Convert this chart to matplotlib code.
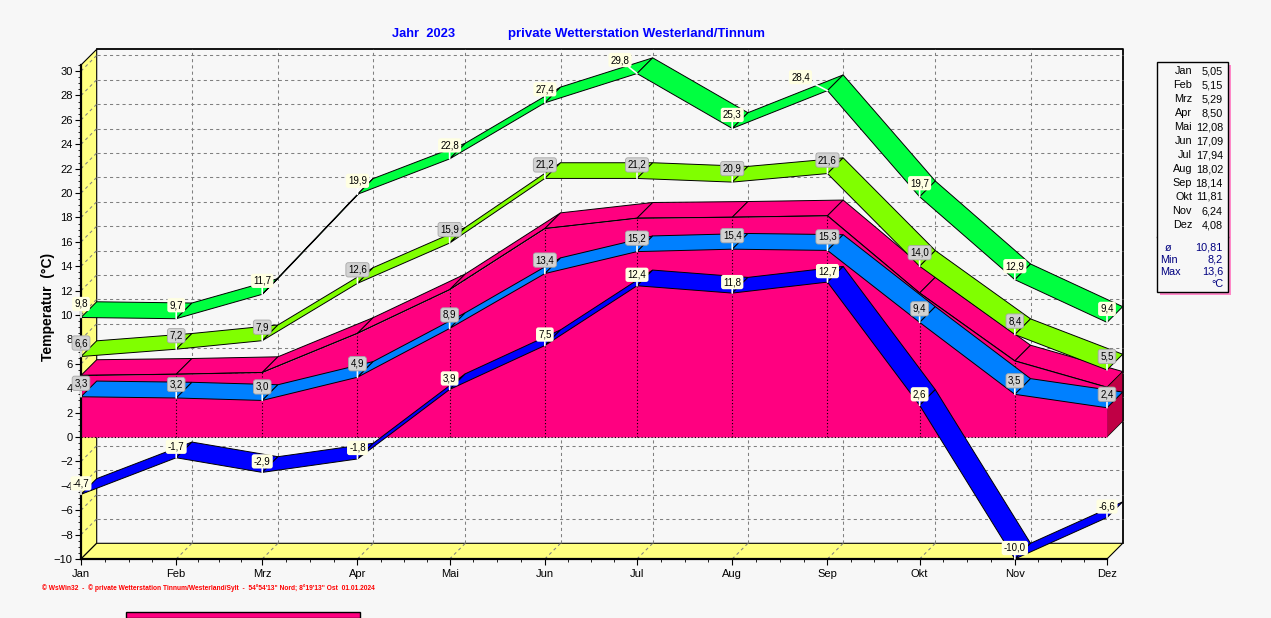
import matplotlib
matplotlib.use("Agg")
import matplotlib.pyplot as plt
import numpy as np
from matplotlib.patches import Polygon, Rectangle
from matplotlib.ticker import FixedLocator, MultipleLocator

plt.rcParams['font.family'] = ['Liberation Sans', 'DejaVu Sans']

# --- data (Jahr 2023, Westerland/Tinnum) ---
months = ['Jan', 'Feb', 'Mrz', 'Apr', 'Mai', 'Jun', 'Jul', 'Aug', 'Sep', 'Okt', 'Nov', 'Dez']
month_days = [31, 28, 31, 30, 31, 30, 31, 31, 30, 31, 30, 31]
temp_max = [9.8, 9.7, 11.7, 19.9, 22.8, 27.4, 29.8, 25.3, 28.4, 19.7, 12.9, 9.4]
temp_mean_max = [6.6, 7.2, 7.9, 12.6, 15.9, 21.2, 21.2, 20.9, 21.6, 14.0, 8.4, 5.5]
temp_mean = [5.05, 5.15, 5.29, 8.50, 12.08, 17.09, 17.94, 18.02, 18.14, 11.81, 6.24, 4.08]
temp_mean_min = [3.3, 3.2, 3.0, 4.9, 8.9, 13.4, 15.2, 15.4, 15.3, 9.4, 3.5, 2.4]
temp_min = [-4.7, -1.7, -2.9, -1.8, 3.9, 7.5, 12.4, 11.8, 12.7, 2.6, -10.0, -6.6]
year_mean = '10,81'
year_min = '8,2'
year_max = '13,6'

W, H = 1271, 618
BG = '#F7F7F7'
YELLOW = '#FFFF80'
PINK = '#FF0080'
PINK_DARK = '#C00045'
GRID = '#808080'

def fx(px):
    return px / W

def fy(py):
    return 1 - py / H

def fmt(v):
    return f"{v:.1f}".replace('.', ',')

fig = plt.figure(figsize=(W / 100, H / 100), dpi=100)
fig.patch.set_facecolor(BG)
ax = fig.add_axes([fx(81), 59 / H, 1026 / W, 494 / H])
xmin, xmax = 0, sum(month_days[:-1])
ymin, ymax = -10, 30.5
ax.set_xlim(xmin, xmax)
ax.set_ylim(ymin, ymax)
ax.patch.set_visible(False)

# first day of every month as day of year
x = np.concatenate([[0], np.cumsum(month_days[:-1])])
n = len(x)

# depth of the 3d effect, in pixels -> data units
DEPTH = 15.7
p0 = ax.transData.transform((0, 0))
p1 = ax.transData.transform((1, 1))
dx = DEPTH / (p1[0] - p0[0])
dy = DEPTH / (p1[1] - p0[1])

# back wall, left wall, floor
ax.add_patch(Rectangle((xmin + dx, ymin + dy), xmax - xmin, ymax - ymin,
                       fc=BG, ec='none', zorder=0, clip_on=False))
ax.plot([xmin + dx, xmax + dx, xmax + dx], [ymax + dy, ymax + dy, ymin + dy],
        color='k', lw=1.3, zorder=0.5, clip_on=False)
ax.add_patch(Polygon([(xmin, ymin), (xmin, ymax), (xmin + dx, ymax + dy), (xmin + dx, ymin + dy)],
                     closed=True, fc=YELLOW, ec='k', lw=0.8, zorder=0.6, clip_on=False))
ax.add_patch(Polygon([(xmin, ymin), (xmax, ymin), (xmax + dx, ymin + dy), (xmin + dx, ymin + dy)],
                     closed=True, fc=YELLOW, ec='k', lw=0.8, zorder=0.6, clip_on=False))

# dashed grid on back wall, left wall and floor
dash = dict(color=GRID, lw=0.75, dashes=(3, 3), zorder=0.8, clip_on=False)
for yv in range(-8, 31, 2):
    ax.plot([xmin + dx, xmax + dx], [yv + dy, yv + dy], **dash)
    ax.plot([xmin, xmin + dx], [yv, yv + dy], **dash)
for xv in x[1:-1]:
    ax.plot([xv + dx, xv + dx], [ymin + dy, ymax + dy], **dash)
    ax.plot([xv, xv + dx], [ymin, ymin + dy], **dash)

# pink 3d area for the monthly mean
m = temp_mean
for i in range(n - 1):
    poly = [(x[i], m[i]), (x[i + 1], m[i + 1]), (x[i + 1] + dx, m[i + 1] + dy), (x[i] + dx, m[i] + dy)]
    ax.add_patch(Polygon(poly, closed=True, fc=PINK, ec='k', lw=0.7, zorder=3, clip_on=False))
ax.add_patch(Polygon([(x[-1], 0), (x[-1], m[-1]), (x[-1] + dx, m[-1] + dy), (x[-1] + dx, dy)],
                     closed=True, fc=PINK_DARK, ec='k', lw=0.5, zorder=3, clip_on=False))
ax.fill_between(x, 0, m, color=PINK, lw=0, zorder=3.1)
ax.plot(x, m, color='k', lw=0.8, zorder=3.2)
ax.vlines(x[1:-1], 0, m[1:-1], colors='k', linestyles=(0, (1, 2)), lw=0.8, zorder=3.2)
ax.plot([x[0], x[-1]], [0, 0], color='k', ls=(0, (1, 2)), lw=0.8, zorder=3.2)


def ribbon(vals, color, z):
    for i in range(n - 1):
        poly = [(x[i], vals[i]), (x[i + 1], vals[i + 1]),
                (x[i + 1] + dx, vals[i + 1] + dy), (x[i] + dx, vals[i] + dy)]
        ax.add_patch(Polygon(poly, closed=True, fc=color, ec='k', lw=0.7, zorder=z, clip_on=False))


ribbon(temp_mean_min, '#0080FF', 4)
ribbon(temp_min, '#0000FF', 5)
ribbon(temp_mean_max, '#80FF00', 6)
ribbon(temp_max, '#00FF40', 7)


def labels(vals, fc, ec, rise, nudge=None):
    nudge = nudge or {}
    for i, (xi, v) in enumerate(zip(x, vals)):
        ax.annotate(fmt(v), xy=(xi, v), xytext=(nudge.get(i, 0), rise),
                    textcoords='offset pixels', ha='center', va='center', fontsize=7,
                    bbox=dict(boxstyle='round,pad=0.22,rounding_size=0.25', fc=fc, ec=ec, lw=0.6),
                    arrowprops=dict(arrowstyle='-', color='white', lw=1.2, shrinkA=0, shrinkB=0),
                    zorder=10, annotation_clip=False)


labels(temp_mean_min, '#D2D2D2', '#A8A8A8', 13.5)
labels(temp_min, '#FFFFE2', 'none', 11)
labels(temp_mean_max, '#D2D2D2', '#A8A8A8', 13.5)
labels(temp_max, '#FFFFE2', 'none', 13.5, nudge={6: -17, 8: -27})

# axes, ticks
for s in ['top', 'right']:
    ax.spines[s].set_visible(False)
for s in ['left', 'bottom']:
    ax.spines[s].set_linewidth(1.6)
    ax.spines[s].set_zorder(8)
ax.set_xticks(x)
ax.set_xticklabels(months)
quarters = [x[i] + k * month_days[i] / 4 for i in range(n - 1) for k in (1, 2, 3)]
ax.xaxis.set_minor_locator(FixedLocator(quarters))
ax.set_yticks(range(-10, 31, 2))
ax.yaxis.set_minor_locator(MultipleLocator(0.5))
ax.tick_params(axis='x', which='major', length=4, width=0.8, labelsize=8, pad=3)
ax.tick_params(axis='y', which='major', length=4, width=0.8, labelsize=8, pad=2)
ax.tick_params(which='minor', length=2, width=0.6)

# texts
fig.text(fx(392), fy(34), 'Jahr  2023', color='#0000FF', fontweight='bold', fontsize=9.3, va='center')
fig.text(fx(508), fy(34), 'private Wetterstation Westerland/Tinnum', color='#0000FF',
         fontweight='bold', fontsize=9.5, va='center')
fig.text(fx(48), fy(307), 'Temperatur  (°C)', rotation=90, fontweight='bold', fontsize=10,
         ha='center', va='center')
fig.text(fx(42), fy(588), "© WsWin32  -  © private Wetterstation Tinnum/Westerland/Sylt  -  "
         "54°54'13\" Nord; 8°19'13\" Ost  01.01.2024", color='red', fontsize=4.8,
         fontweight='bold', va='center')

# legend box with monthly means
fig.patches.append(Rectangle((fx(1160), fy(295)), 71 / W, 230 / H, transform=fig.transFigure,
                             fc='#FF88C8', ec='none', zorder=1))
fig.patches.append(Rectangle((fx(1157), fy(292)), 71 / W, 230 / H, transform=fig.transFigure,
                             fc=BG, ec='k', lw=1.0, zorder=2))
fig.lines.append(plt.Line2D([fx(1157), fx(1228)], [fy(237), fy(237)], transform=fig.transFigure,
                            color='k', lw=1.0))
for i, (mon, val) in enumerate(zip(months, temp_mean)):
    yy = fy(71 + 14 * i)
    fig.text(fx(1192), yy, mon, ha='right', va='center', fontsize=7.8)
    fig.text(fx(1223), yy, f"{val:.2f}".replace('.', ','), ha='right', va='center', fontsize=7.8)
NAVY = '#000080'
for j, (lab, val) in enumerate([('ø', year_mean), ('Min', year_min), ('Max', year_max)]):
    yy = fy(248 + 12 * j)
    fig.text(fx(1160 if lab != 'ø' else 1165), yy, lab, ha='left', va='center', fontsize=7.8, color=NAVY)
    fig.text(fx(1223), yy, val, ha='right', va='center', fontsize=7.8, color=NAVY)
fig.text(fx(1223), fy(284), '°C', ha='right', va='center', fontsize=7.8, color=NAVY)

# cut-off window strip at the bottom edge
fig.patches.append(Rectangle((fx(126), 0), 234 / W, 6 / H, transform=fig.transFigure,
                             fc=PINK, ec='k', lw=1.0))

fig.savefig('out.png', dpi=100, facecolor=BG)
